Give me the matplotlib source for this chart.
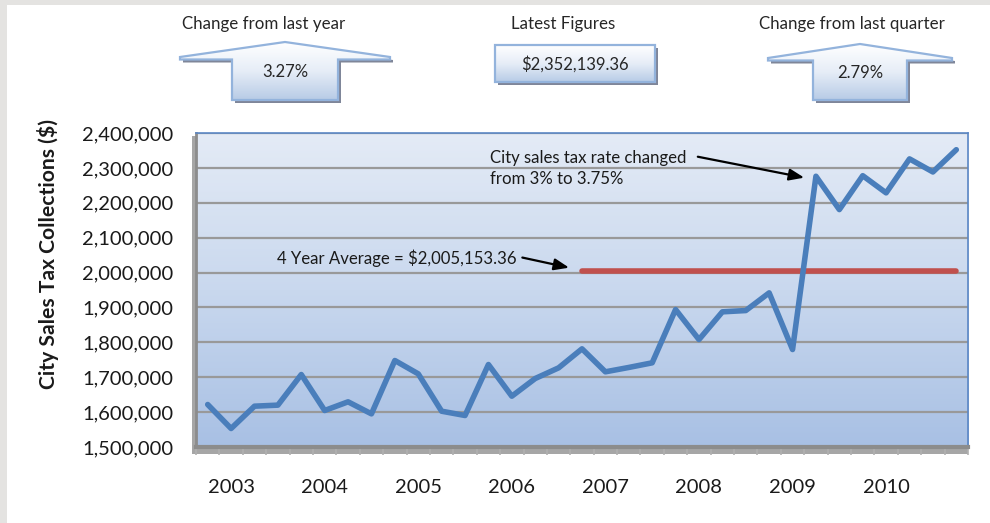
import numpy as np
import matplotlib
matplotlib.use("Agg")
import matplotlib.pyplot as plt
from matplotlib.patches import Polygon, Rectangle
from matplotlib.colors import LinearSegmentedColormap
from matplotlib.ticker import FuncFormatter

plt.rcParams['font.family'] = ['Lato', 'DejaVu Sans']

# quarterly collections, first point is the quarter before the 2003 label
collections = [1621800, 1553000, 1617000, 1620000, 1707700, 1604600, 1629500, 1595000,
               1747900, 1709700, 1602600, 1590300, 1736400, 1645600, 1696300, 1726900,
               1781400, 1715500, 1728000, 1741300, 1894000, 1808000, 1887400, 1891100,
               1941800, 1779400, 2276000, 2180500, 2277660, 2228400, 2325800, 2288300,
               2352139.36]
years = ['2003', '2004', '2005', '2006', '2007', '2008', '2009', '2010']
year_pos = [1, 5, 9, 13, 17, 21, 25, 29]
avg_value = 2005153.36
avg_start = 16

kpi_titles = ['Change from last year', 'Latest Figures', 'Change from last quarter']
kpi_values = ['3.27%', '$2,352,139.36', '2.79%']

W, H = 990, 523
fig = plt.figure(figsize=(W / 100, H / 100), dpi=100)
fig.patch.set_facecolor('white')

# overlay in pixel coordinates for frame, kpi shapes and plot shadow
ov = fig.add_axes([0, 0, 1, 1], zorder=0)
ov.set_xlim(0, W)
ov.set_ylim(H, 0)
ov.axis('off')

ov.add_patch(Rectangle((0, 0), W, 5, color='#e4e3e1', lw=0))
ov.add_patch(Rectangle((0, 0), 7, H, color='#e4e3e1', lw=0))

# plot shadow / floor
ov.add_patch(Rectangle((192, 136), 776, 318, color='#a6a6a6', lw=0))

shape_cmap = LinearSegmentedColormap.from_list('kpi', ['#ffffff', '#e6edf7', '#b7cbe6'])
grad = np.linspace(0, 1, 256).reshape(-1, 1)


def kpi_shape(pts, title, value, tx, ty, title_x):
    shadow = Polygon([(x + 3, y + 3) for x, y in pts], closed=True,
                     facecolor='#7f8699', edgecolor='none', zorder=1)
    ov.add_patch(shadow)
    poly = Polygon(pts, closed=True, facecolor='none', edgecolor='#93b3dc',
                   lw=1.6, zorder=3)
    ov.add_patch(poly)
    xs = [p[0] for p in pts]
    ys = [p[1] for p in pts]
    im = ov.imshow(grad, extent=[min(xs), max(xs), max(ys), min(ys)], cmap=shape_cmap,
                   aspect='auto', origin='upper', zorder=2)
    im.set_clip_path(poly)
    ov.text(tx, ty, value, ha='center', va='center', fontsize=12, color='#262626', zorder=4)
    ov.text(title_x, 24, title, ha='center', va='center', fontsize=12.2, color='#262626')


def arrow_pts(cx, apex_y, wing, wing_y, body, bottom):
    return [(cx, apex_y), (cx + wing, wing_y), (cx + wing, wing_y + 2.5),
            (cx + body, wing_y + 2.5), (cx + body, bottom), (cx - body, bottom),
            (cx - body, wing_y + 2.5), (cx - wing, wing_y + 2.5), (cx - wing, wing_y)]


kpi_shape(arrow_pts(285, 42, 105, 57, 53, 100), kpi_titles[0], kpi_values[0], 285, 72, 264)
kpi_shape([(495, 45), (655, 45), (655, 82), (495, 82)], kpi_titles[1], kpi_values[1], 575, 64, 563)
kpi_shape(arrow_pts(860, 44, 92, 58, 47, 100), kpi_titles[2], kpi_values[2], 860, 73, 852)

# main chart
ax = fig.add_axes([196 / W, 1 - 447 / H, 772 / W, 314 / H], zorder=2)
bg_cmap = LinearSegmentedColormap.from_list('bg', ['#e4ebf6', '#c9d8ee', '#a8c0e4'])
ax.imshow(grad, extent=[0, 1, 0, 1], transform=ax.transAxes, cmap=bg_cmap,
          aspect='auto', origin='upper', zorder=0)

x = np.arange(len(collections))
ax.plot(x, collections, color='#4a7ebb', lw=4, solid_joinstyle='round',
        solid_capstyle='round', zorder=4)
avg_x = x[avg_start:]
ax.plot(avg_x, [avg_value] * len(avg_x), color='#c0504d', lw=4,
        solid_capstyle='round', zorder=3)

ax.set_xlim(-0.5, len(collections) - 0.5)
ax.set_ylim(1500000, 2400000)
ax.set_yticks(np.arange(1500000, 2400001, 100000))
ax.yaxis.set_major_formatter(FuncFormatter(lambda v, p: f'{v:,.0f}'))
ax.yaxis.grid(True, color='#999999', lw=1.6, zorder=1)
ax.set_axisbelow(True)
ax.tick_params(axis='y', length=0, pad=16.5, labelsize=14.5, labelcolor='#1a1a1a')

ax.set_xticks(year_pos)
ax.set_xticklabels(years)
ax.set_xticks(np.arange(-0.5, len(collections), 1), minor=True)
ax.tick_params(axis='x', which='major', length=0, pad=23, labelsize=14.5, labelcolor='#1a1a1a')
ax.tick_params(axis='x', which='minor', length=6, width=1.2, color='#b0b0b0', direction='out')

for side in ['top', 'right']:
    ax.spines[side].set_color('#5b87c5')
    ax.spines[side].set_linewidth(1.2)
ax.spines['left'].set_color('#8c8c8c')
ax.spines['left'].set_linewidth(2)
ax.spines['bottom'].set_color('#8c8c8c')
ax.spines['bottom'].set_linewidth(3)

fig.text(48 / W, 1 - 254 / H, 'City Sales Tax Collections ($)', rotation=90,
         ha='center', va='center', fontsize=15.2, fontweight='bold', color='#1a1a1a')

arrow_kw = dict(arrowstyle='-|>,head_length=0.9,head_width=0.35', color='black', lw=1.6,
                shrinkA=0, shrinkB=0)
ax.annotate('', xy=(25.5, 2272000), xytext=(20.95, 2332000), arrowprops=arrow_kw, zorder=5)
ax.text(12.07, 2298000, 'City sales tax rate changed\nfrom 3% to 3.75%', ha='left',
        va='center', fontsize=12.1, linespacing=1.4, color='#1a1a1a', zorder=5)
ax.annotate('', xy=(15.45, 2014000), xytext=(13.45, 2043000), arrowprops=arrow_kw, zorder=5)
ax.text(13.2, 2040000, '4 Year Average = $2,005,153.36', ha='right', va='center',
        fontsize=12.1, color='#1a1a1a', zorder=5)

fig.savefig('out.png', dpi=100)
